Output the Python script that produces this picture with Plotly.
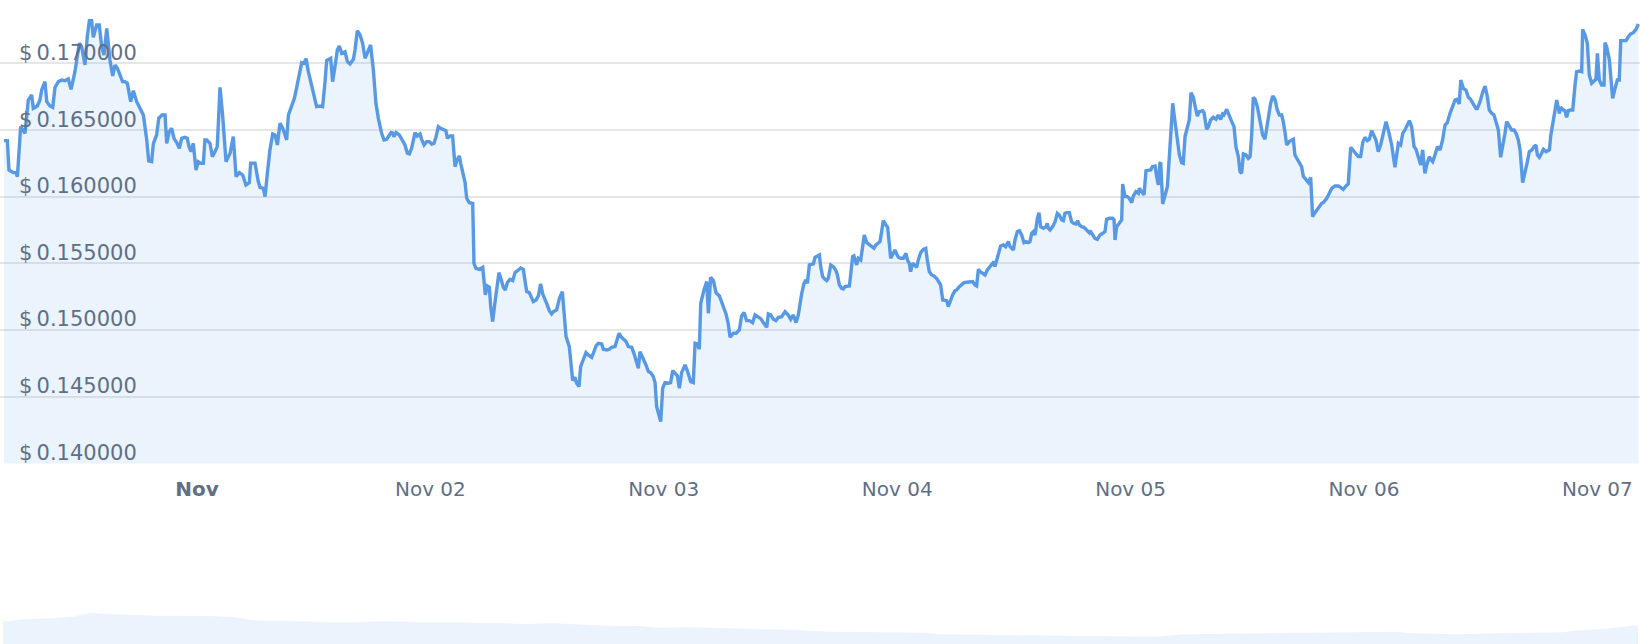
import pandas as pd
import plotly.graph_objects as go

# ---------------- data (price in USD, time as minutes after 2023-10-31 00:00) ----------------
start = pd.Timestamp("2023-10-31 00:00")

min_a = [249,270,280,307,323,332,352,369,379,399,
         420,430,455,471,482,502,513,533,550,564,
         585,605,626,646,663,687,702,714,728,739,
         749,763,776,790,800,821,837,852,866,883,
         903,920,934,949,965,981,996,1010,1031,1047,
         1068,1088,1109,1130,1142,1160,1171,1191,1204,1224,
         1243,1253,1269,1284,1298,1315,1331,1345,1366,1380,
         1391,1403,1417,1434,1448,1463,1479,1489,1500,1520,
         1535,1551,1565,1582,1598,1619,1644,1664,1681,1701,
         1722,1742,1763,1771,1798,1818,1829,1849,1860,1874,
         1890,1907,1921,1936,1952,1969,1983,1993,2004,2024,
         2041,2055,2076,2086,2100,2113,2127,2147,2168,2178,
         2199,2215,2230,2240,2265,2277,2291,2306,2318,2333,
         2353,2368,2384,2405,2415,2429,2446,2462,2477,2497,
         2511,2528,2544,2559,2579,2594,2610,2627,2641,2655,
         2668,2688]
price_a = [0.164213,0.164213,0.162013,0.161813,0.161813,0.161513,0.165263,0.164888,0.164763,0.167263,
           0.167638,0.166638,0.166813,0.167263,0.168013,0.168638,0.167138,0.166813,0.166713,0.168213,
           0.168638,0.168763,0.168713,0.168838,0.168063,0.169388,0.170388,0.171513,0.171263,0.170638,
           0.169888,0.172013,0.173213,0.173213,0.171963,0.172888,0.172888,0.171263,0.170638,0.172638,
           0.170263,0.169063,0.169888,0.169638,0.169138,0.168638,0.168638,0.168513,0.167138,0.167963,
           0.167138,0.166638,0.166138,0.164263,0.162688,0.162638,0.164013,0.164638,0.165888,0.166138,
           0.166138,0.164013,0.164888,0.165138,0.164388,0.164063,0.163638,0.164388,0.164463,0.164388,
           0.163763,0.163388,0.164013,0.162013,0.162638,0.162513,0.162513,0.164263,0.164263,0.164013,
           0.163013,0.163388,0.163763,0.168213,0.166138,0.162638,0.163263,0.164513,0.161513,0.161813,
           0.161638,0.160888,0.161063,0.162513,0.162513,0.161138,0.160713,0.160638,0.160013,0.161763,
           0.163513,0.164713,0.164638,0.163888,0.165513,0.165138,0.164513,0.164263,0.166138,0.166763,
           0.167388,0.168213,0.169388,0.170063,0.170013,0.170363,0.169388,0.168388,0.167513,0.166763,
           0.166813,0.166763,0.168638,0.170213,0.170388,0.168638,0.169763,0.171013,0.171313,0.170763,
           0.170888,0.170138,0.169963,0.170313,0.171013,0.172463,0.172138,0.171513,0.170388,0.171013,
           0.171388,0.169513,0.167013,0.165888,0.164763,0.164263,0.164313,0.164638,0.164888,0.164513,
           0.164813,0.164638]

min_b = [2713,2723,2738,2750,2764,2785,2799,2816,2826,2841,
         2857,2873,2888,2902,2915,2929,2943,2960,2976,2985,
         3001,3017,3032,3046,3059,3067,3079,3094,3104,3120,
         3141,3149,3161,3182,3203,3211,3219,3231,3244,3252,
         3264,3279,3289,3303,3316,3330,3342,3355,3371,3388,
         3402,3423,3437,3453,3464,3474,3490,3501,3515,3532,
         3546,3560,3573,3597,3614,3628,3639,3659,3676,3694,
         3706,3717,3737,3745,3758,3772,3782,3797,3807,3824,
         3840,3854,3875,3885,3902,3916,3937,3947,3968,3984,
         3998,4019,4029,4044,4056,4070,4087,4101,4122,4136,
         4149,4163,4173,4190,4210,4225,4239,4255,4266,4276,
         4301,4313,4327,4348,4362,4375,4389,4404,4416,4430,
         4451,4465,4486,4502,4513,4527,4539,4548,4568,4585,
         4595,4609,4626,4642,4663,4677,4687,4704,4718,4729,
         4749,4766,4786,4800,4815,4831,4848,4868,4883,4903,
         4918,4934,4955,4965,4979,4996,5012,5027,5047,5068,
         5088,5103,5119,5136,5150]
price_b = [0.164138,0.163888,0.163263,0.163213,0.163638,0.164813,0.164563,0.164713,0.164313,0.163888,
           0.164138,0.164138,0.163963,0.164013,0.164513,0.165263,0.165138,0.165013,0.164963,0.164388,
           0.164563,0.164563,0.162263,0.162813,0.163063,0.162513,0.161763,0.161063,0.159888,0.159563,
           0.159513,0.155013,0.154638,0.154563,0.154713,0.153263,0.152638,0.153313,0.153213,0.151763,
           0.150638,0.152138,0.153263,0.154313,0.153813,0.153213,0.153013,0.153563,0.153813,0.153713,
           0.154313,0.154563,0.154663,0.154563,0.153638,0.152888,0.152813,0.152513,0.152138,0.152263,
           0.152563,0.153463,0.152713,0.152013,0.151463,0.151213,0.151388,0.151513,0.152388,0.152888,
           0.151263,0.149513,0.148763,0.147513,0.146213,0.146463,0.146013,0.145763,0.147263,0.147813,
           0.148313,0.148138,0.147963,0.148263,0.148813,0.149013,0.148963,0.148563,0.148513,0.148563,
           0.148713,0.148763,0.149213,0.149763,0.149513,0.149313,0.149138,0.148763,0.148713,0.148263,
           0.147638,0.147138,0.148388,0.147963,0.147388,0.146888,0.146813,0.146513,0.146063,0.144263,
           0.143138,0.145638,0.146063,0.146013,0.146063,0.146963,0.146763,0.146563,0.145638,0.146813,
           0.147388,0.146963,0.146138,0.146063,0.149013,0.148963,0.148563,0.152013,0.153013,0.153638,
           0.151263,0.153963,0.153713,0.152813,0.152563,0.152138,0.151813,0.151213,0.150463,0.149463,
           0.149763,0.149763,0.150013,0.151063,0.151313,0.150713,0.150713,0.150563,0.151138,0.151013,
           0.150863,0.150563,0.150213,0.151213,0.151138,0.150813,0.150713,0.150963,0.151013,0.151388,
           0.151138,0.150813,0.151138,0.150563,0.151138]

min_c = [5171,5185,5197,5206,5218,5232,5243,5253,5267,5280,
         5288,5300,5315,5325,5335,5350,5366,5382,5391,5403,
         5417,5428,5438,5452,5465,5473,5485,5493,5510,5520,
         5535,5547,5557,5572,5588,5602,5617,5629,5644,5654,
         5664,5674,5691,5701,5711,5720,5736,5746,5757,5767,
         5781,5798,5814,5823,5835,5843,5855,5870,5880,5890,
         5905,5921,5936,5946,5958,5973,5987,6003,6014,6028,
         6041,6055,6065,6075,6086,6102,6117,6127,6143,6158,
         6172,6189,6209,6226,6240,6250,6261,6271,6287,6302,
         6316,6333,6349,6357,6363,6374,6390,6398,6415,6429,
         6446,6456,6477,6487,6501,6514,6528,6542,6555,6569,
         6579,6590,6600,6610,6625,6635,6645,6662,6678,6686,
         6692,6703,6719,6734,6748,6760,6775,6785,6795,6806,
         6822,6836,6847,6863,6873,6884,6898,6912,6929,6945]
price_c = [0.152763,0.153513,0.153763,0.153513,0.154888,0.154963,0.154963,0.155463,0.155563,0.155638,
           0.154763,0.154013,0.153813,0.153713,0.153888,0.154888,0.154763,0.154463,0.154138,0.153388,
           0.153138,0.153088,0.153263,0.153263,0.153313,0.154138,0.155513,0.155563,0.154888,0.155388,
           0.155263,0.156263,0.157138,0.156563,0.156388,0.156263,0.156138,0.156388,0.156513,0.156638,
           0.157388,0.158213,0.157888,0.157713,0.156513,0.155388,0.155763,0.156013,0.155713,0.155463,
           0.155388,0.155388,0.155763,0.155263,0.155013,0.154388,0.155013,0.154813,0.154713,0.155263,
           0.155813,0.156063,0.156138,0.155263,0.154388,0.154138,0.154063,0.153888,0.153638,0.153388,
           0.152263,0.152263,0.152213,0.151763,0.152138,0.152638,0.152963,0.153013,0.153263,0.153463,
           0.153563,0.153588,0.153638,0.153638,0.153388,0.153313,0.154563,0.154388,0.154263,0.154138,
           0.154513,0.154763,0.155013,0.155138,0.154763,0.155263,0.156013,0.156313,0.156388,0.156263,
           0.156638,0.156263,0.156013,0.156763,0.157388,0.157463,0.157138,0.156563,0.156638,0.156563,
           0.156638,0.157263,0.157388,0.157138,0.158388,0.158813,0.157763,0.157638,0.157763,0.158013,
           0.157638,0.157513,0.157763,0.158138,0.158763,0.158638,0.158263,0.158213,0.158763,0.158813,
           0.158813,0.158138,0.158013,0.157963,0.158213,0.157888,0.157763,0.157713,0.157513,0.157313]

min_d = [6950,6966,6980,6995,7011,7028,7042,7052,7069,7089,
         7098,7104,7114,7130,7145,7151,7165,7180,7192,7207,
         7217,7233,7248,7254,7268,7283,7295,7309,7324,7334,
         7351,7361,7371,7381,7386,7398,7412,7427,7443,7460,
         7470,7484,7501,7515,7525,7536,7550,7562,7573,7587,
         7603,7612,7624,7645,7653,7669,7680,7694,7710,7727,
         7741,7756,7768,7776,7793,7809,7824,7838,7850,7865,
         7875,7885,7896,7912,7926,7937,7947,7957,7968,7982,
         7998,8015,8029,8050,8064,8077,8091,8105,8118,8132,
         8142,8153,8163,8179,8194,8204,8214,8229,8245,8255,
         8266,8282,8297,8311,8323,8332,8348,8364,8379,8389,
         8410,8426,8441,8461,8482,8496,8512,8529,8543,8558,
         8574,8591,8605,8619,8632,8646,8661,8673,8687,8702,
         8714,8728,8743,8759,8776,8790,8811,8831,8842,8852,
         8866]
price_d = [0.157463,0.157138,0.156888,0.156813,0.157138,0.157263,0.157388,0.158313,0.158388,0.158388,
           0.158263,0.156763,0.157763,0.158013,0.158263,0.160963,0.160013,0.160013,0.159888,0.159563,
           0.160063,0.160388,0.160263,0.160638,0.160388,0.160138,0.161963,0.162013,0.162013,0.162263,
           0.162313,0.161513,0.160888,0.162513,0.162563,0.159463,0.160138,0.160763,0.163763,0.167013,
           0.166013,0.164513,0.163138,0.162563,0.162513,0.164513,0.165263,0.165763,0.167813,0.167463,
           0.166513,0.166063,0.166388,0.166463,0.166313,0.165063,0.165263,0.165763,0.165963,0.165813,
           0.166138,0.165813,0.166213,0.166138,0.166563,0.166013,0.165638,0.165263,0.163763,0.163013,
           0.161888,0.161763,0.163213,0.163138,0.162888,0.163013,0.164638,0.167463,0.167313,0.166763,
           0.165763,0.164638,0.164313,0.165888,0.167013,0.167563,0.167313,0.166513,0.166138,0.166138,
           0.165638,0.164813,0.163888,0.164138,0.164263,0.164313,0.163138,0.162813,0.162563,0.162263,
           0.161513,0.161263,0.161063,0.161463,0.158513,0.158713,0.159013,0.159313,0.159513,0.159563,
           0.159888,0.160263,0.160638,0.160813,0.160813,0.160713,0.160563,0.160813,0.160963,0.163713,
           0.163513,0.163213,0.163013,0.163013,0.164063,0.164463,0.164213,0.164313,0.164963,0.164638,
           0.164263,0.163388,0.163888,0.164763,0.165638,0.165013,0.163888,0.162213,0.163013,0.164013,
           0.163888]

min_e = [8879,8893,8907,8920,8934,8949,8961,8975,8990,9002,
         9016,9027,9043,9051,9064,9078,9093,9109,9125,9140,
         9154,9171,9187,9202,9212,9228,9237,9253,9269,9284,
         9298,9315,9331,9339,9356,9372,9387,9401,9413,9428,
         9442,9454,9469,9483,9496,9510,9520,9537,9551,9566,
         9578,9592,9603,9619,9633,9648,9660,9675,9689,9701,
         9710,9722,9736,9747,9763,9784,9792,9804,9819,9829,
         9845,9853,9870,9880,9890,9901,9915,9928,9942,9952,
         9969,9983,9989,10004,10018,10030,10045,10059,10071,10080,
         10092,10106,10121,10127,10137,10154,10162,10174,10189,10203,
         10215,10224,10236,10257,10271,10285,10302,10318,10333]
price_e = [0.164763,0.165013,0.165388,0.165713,0.165263,0.163763,0.163563,0.163013,0.162388,0.163513,
           0.161763,0.162388,0.163013,0.162813,0.162638,0.163138,0.163763,0.163513,0.164263,0.165388,
           0.165563,0.166263,0.166888,0.167263,0.167313,0.166963,0.168763,0.168138,0.168013,0.167463,
           0.167313,0.166888,0.166613,0.166613,0.167138,0.167813,0.168313,0.167513,0.166513,0.166263,
           0.166138,0.165638,0.165013,0.162963,0.163763,0.164763,0.165638,0.165263,0.165013,0.165013,
           0.164763,0.164263,0.163513,0.161063,0.161763,0.162638,0.163388,0.163513,0.163763,0.163888,
           0.163138,0.162963,0.163263,0.163563,0.163388,0.163513,0.164563,0.165388,0.166263,0.167263,
           0.166263,0.166713,0.166513,0.166463,0.165963,0.166463,0.166513,0.166513,0.168388,0.169388,
           0.169438,0.169388,0.172563,0.172138,0.171513,0.169138,0.168513,0.168638,0.168813,0.170763,
           0.168763,0.168388,0.168388,0.171563,0.171263,0.170263,0.169313,0.167388,0.168138,0.168763,
           0.168763,0.171713,0.171713,0.171713,0.172013,0.172213,0.172313,0.172563,0.172963]

# navigator (long-range history shown in the mini chart below)
nav_day = [0, 8, 17, 29, 42, 53, 61, 80, 92, 111, 124, 139, 149, 161, 177, 193, 212, 230, 249, 268,
           287, 300, 312, 331, 343, 362, 381, 394, 412, 438, 457, 475, 490, 553, 562, 616, 691, 710,
           773, 835, 845, 873, 898, 936, 942, 961, 970, 981]
nav_value = [0.323, 0.340, 0.350, 0.357, 0.373, 0.413, 0.400, 0.390, 0.383, 0.383, 0.380, 0.367,
             0.340, 0.330, 0.330, 0.317, 0.317, 0.330, 0.317, 0.317, 0.313, 0.307, 0.300, 0.307,
             0.297, 0.283, 0.280, 0.263, 0.267, 0.257, 0.247, 0.240, 0.225, 0.213, 0.197, 0.190,
             0.173, 0.197, 0.213, 0.223, 0.207, 0.197, 0.207, 0.217, 0.233, 0.250, 0.267, 0.290]

tick_days = pd.date_range("2023-11-01", periods=7, freq="D")
tick_text = ["<b>Nov</b>", "Nov 02", "Nov 03", "Nov 04", "Nov 05", "Nov 06", "Nov 07"]
price_ticks = [0.140, 0.145, 0.150, 0.155, 0.160, 0.165, 0.170]

# ---------------- build ----------------
pairs = [(min_a, price_a), (min_b, price_b), (min_c, price_c), (min_d, price_d), (min_e, price_e)]
minutes, prices = [], []
for m, p in pairs:
    assert len(m) == len(p), (len(m), len(p))
    minutes += m
    prices += p
times = start + pd.to_timedelta(minutes, unit="min")

price_text = ["$\u2009" + f"{v:.6f}" for v in price_ticks]

LINE = "#5799e5"
FILL = "rgba(90,155,230,0.12)"
TXT = "#5f6f87"
FONT = "DejaVu Sans"

fig = go.Figure()
fig.add_trace(go.Scatter(
    x=times, y=prices, mode="lines",
    line=dict(color=LINE, width=3.4),
    fill="tozeroy", fillcolor=FILL,
    hoverinfo="skip", xaxis="x", yaxis="y",
))
fig.add_trace(go.Scatter(
    x=nav_day, y=nav_value, mode="lines",
    line=dict(width=0, color="rgba(0,0,0,0)"),
    fill="tozeroy", fillcolor=FILL,
    hoverinfo="skip", xaxis="x2", yaxis="y2",
))

fig.update_layout(
    width=1640, height=644,
    margin=dict(l=0, r=0, t=0, b=0),
    paper_bgcolor="white", plot_bgcolor="white",
    showlegend=False,
    xaxis=dict(
        domain=[0, 1], anchor="y", type="date",
        range=["2023-10-31 03:44:36", "2023-11-07 04:22:54"],
        showgrid=False, zeroline=False, showline=False, ticks="",
        tickmode="array", tickvals=tick_days, ticktext=tick_text,
        tickfont=dict(family=FONT, size=20, color=TXT),
        ticklabelstandoff=11, automargin=False,
    ),
    yaxis=dict(
        domain=[180.5 / 644, 1], anchor="x",
        range=[0.139995, 0.1747625],
        tickmode="array", tickvals=price_ticks, ticktext=price_text,
        ticklabelposition="inside", ticklabelshift=-11, ticklabelstandoff=16,
        ticklabeloverflow="allow",
        showgrid=True, gridcolor="#e6e6e6", gridwidth=1.5,
        zeroline=False, showline=False, ticks="",
        tickfont=dict(family=FONT, size=21, color=TXT),
        automargin=False,
    ),
    xaxis2=dict(domain=[0, 1], anchor="y2", range=[-1.8, 982.2], visible=False),
    yaxis2=dict(domain=[0, 40 / 644], anchor="x2", range=[0.1, 0.5], visible=False),
)

fig.write_html(
    "out.html", include_plotlyjs=True, config={"displayModeBar": False},
    post_script="document.body.style.margin='0';document.body.style.overflow='hidden';",
)
